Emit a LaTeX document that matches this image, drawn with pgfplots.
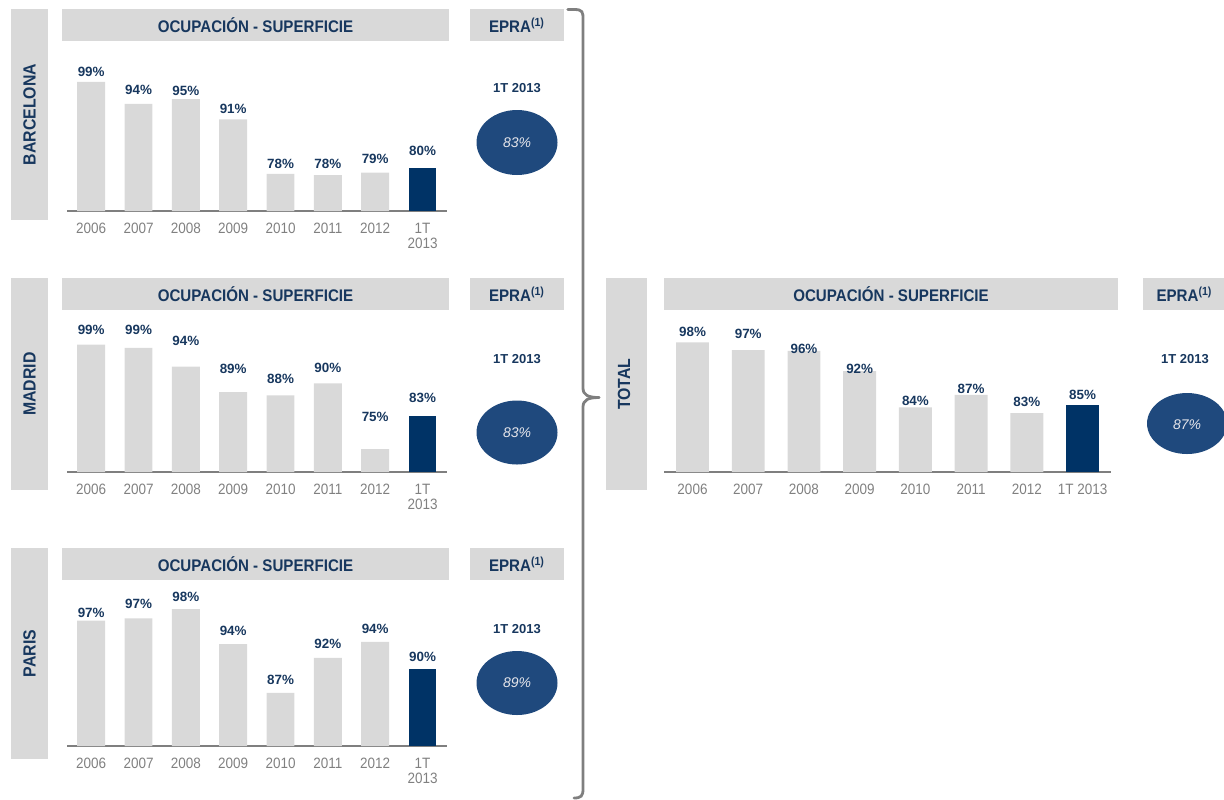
\documentclass[border=0pt]{standalone}
\usepackage{fontspec}
\setmainfont{Liberation Sans}[FakeStretch=0.9]
\newfontfamily\wide{Liberation Sans}
\usepackage{pgfplots}
\pgfplotsset{compat=1.18}
\usepackage{pgfplotstable}

\definecolor{boxgray}{HTML}{D9D9D9}
\definecolor{bargray}{HTML}{D9D9D9}
\definecolor{navy}{HTML}{003366}
\definecolor{ellblue}{HTML}{1F497D}
\definecolor{txtblue}{HTML}{17375E}
\definecolor{tickgray}{HTML}{808080}
\definecolor{linegray}{HTML}{7F7F7F}
\definecolor{elltext}{HTML}{E6E6EB}

% x = position, y = bar height, g = label gap (px), l = printed label
\pgfplotstableread{
x y g l
0 99.0 9.7 99
1 94.0 14 94
2 95.1 8.6 95
3 90.5 10 91
4 78.1 10.4 78
5 77.8 11.7 78
6 78.4 13.4 79
7 79.5 17 80
}\barcelona
\pgfplotstableread{
x y g l
0 99.2 14.7 99
1 98.5 17.7 99
2 94.1 26 94
3 88.2 23 89
4 87.4 16.6 88
5 90.2 15.6 90
6 74.95 32.3 75
7 82.6 18.3 83
}\madrid
\pgfplotstableread{
x y g l
0 96.5 8 97
1 96.8 14 97
2 98.0 12.3 98
3 93.4 13 94
4 87.0 13.4 87
5 91.6 13.7 92
6 93.7 12.7 94
7 90.1 12.3 90
}\paris
\pgfplotstableread{
x y g l
0 98.0 10.6 98
1 96.4 16 97
2 96.2 2 96
3 91.9 2 92
4 84.2 6.7 84
5 86.9 5.7 87
6 83.0 11.3 83
7 84.7 10 85
}\total

\pgfplotsset{
  occ/.style={
    scale only axis, anchor=south west, clip=false,
    axis x line=bottom, axis y line=none,
    axis line style={draw=linegray, line width=1pt, -},
    enlargelimits=false,
    xtick={0,...,7}, major tick length=0pt,
    xticklabel style={font=\fontsize{7.5}{7.6}\selectfont, text=tickgray,
      inner sep=0pt, yshift=-5.85pt, align=center, anchor=north},
    ybar, bar width=0.59,
    point meta=explicit symbolic,
    nodes near coords={\pgfplotspointmeta\%},
    nodes near coords style={font=\wide\bfseries\fontsize{6.7}{8}\selectfont,
      text=txtblue, anchor=center, inner sep=0pt, yshift=\gap*0.5pt},
  },
  left/.style={occ, width=189.7pt, xmin=-0.505, xmax=7.511,
    xticklabels={2006,2007,2008,2009,2010,2011,2012,{1T\\2013}}},
  greybars/.style={draw=none, fill=bargray, bar shift=0pt, restrict x to domain=0:6,
    visualization depends on={\thisrow{g} \as \gap}},
  navybars/.style={draw=none, fill=navy, bar shift=0pt, restrict x to domain=7:7,
    visualization depends on={\thisrow{g} \as \gap}},
}

\tikzset{
  hdr/.style={text=txtblue, font=\bfseries\fontsize{8.4}{10}\selectfont},
  side/.style={text=txtblue, rotate=90, font=\bfseries\fontsize{8.8}{11}\selectfont},
  qtr/.style={text=txtblue, font=\wide\bfseries\fontsize{6.5}{7.5}\selectfont},
  epra/.style={text=elltext, font=\wide\itshape\fontsize{7}{8}\selectfont},
}

\begin{document}
\begin{tikzpicture}
\useasboundingbox (0,0) rectangle (612pt,-399.5pt);

\begin{scope}[x=0.5pt,y=-0.5pt]
  % Barcelona frame
  \fill[boxgray] (11,9.3) rectangle (48,220);
  \node[side] at (29.5,114.6) {BARCELONA};
  \fill[boxgray] (62,9.3) rectangle (449,40.7);
  \node[hdr] at (255.5,25) {OCUPACIÓN - SUPERFICIE};
  \fill[boxgray] (470,9.3) rectangle (564,40.7);
  \node[hdr] at (517,25) {EPRA\textsuperscript{(1)}};
  \node[qtr] at (517,88.3) {1T 2013};
  \fill[ellblue] (517,142.5) ellipse [x radius=20.25pt, y radius=16.25pt];
  \node[epra] at (517,142.5) {83\%};

  % Madrid frame
  \fill[boxgray] (11,278.3) rectangle (48,490);
  \node[side] at (29.5,384.1) {MADRID};
  \fill[boxgray] (62,278.3) rectangle (449,310);
  \node[hdr] at (255.5,294.2) {OCUPACIÓN - SUPERFICIE};
  \fill[boxgray] (470,278.3) rectangle (564,310);
  \node[hdr] at (517,294.2) {EPRA\textsuperscript{(1)}};
  \node[qtr] at (517,359.3) {1T 2013};
  \fill[ellblue] (517,432.5) ellipse [x radius=20.25pt, y radius=16pt];
  \node[epra] at (517,432.5) {83\%};

  % Paris frame
  \fill[boxgray] (11,548.3) rectangle (48,759);
  \node[side] at (29.5,653.6) {PARIS};
  \fill[boxgray] (62,548.3) rectangle (449,580);
  \node[hdr] at (255.5,564.2) {OCUPACIÓN - SUPERFICIE};
  \fill[boxgray] (470,548.3) rectangle (564,580);
  \node[hdr] at (517,564.2) {EPRA\textsuperscript{(1)}};
  \node[qtr] at (517,629.3) {1T 2013};
  \fill[ellblue] (517,683) ellipse [x radius=20.25pt, y radius=16pt];
  \node[epra] at (517,683) {89\%};

  % Total frame
  \fill[boxgray] (606,278.3) rectangle (647.3,490);
  \node[side] at (624,384.1) {TOTAL};
  \fill[boxgray] (664,278.3) rectangle (1118,310);
  \node[hdr] at (891,294.2) {OCUPACIÓN - SUPERFICIE};
  \fill[boxgray] (1143.3,278.3) rectangle (1226,310);
  \node[hdr] at (1184.5,294.2) {EPRA\textsuperscript{(1)}};
  \node[qtr] at (1185,359.3) {1T 2013};
  \fill[ellblue] (1187,423.5) ellipse [x radius=20pt, y radius=15.25pt];
  \node[epra] at (1187,424.5) {87\%};

  % brace
  \draw[linegray, line width=1.4pt, line cap=round]
    (567.7,9.5) -- (574,9.5) .. controls (583,9.5) and (583,12) .. (583,20)
    -- (583,388) .. controls (583,395) and (588,397.5) .. (599,397.5);
  \draw[linegray, line width=1.4pt, line cap=round]
    (599,397.5) .. controls (588,397.5) and (583,400) .. (583,407)
    -- (583,789) .. controls (583,796) and (581,798) .. (574,798);
\end{scope}

\begin{axis}[left, at={(33.65pt,-105.5pt)}, height=70pt, ymin=69.65, ymax=101.5]
  \addplot+[greybars] table[x=x, y=y, meta=l] {\barcelona};
  \addplot+[navybars] table[x=x, y=y, meta=l] {\barcelona};
\end{axis}

\begin{axis}[left, at={(33.65pt,-236pt)}, height=70pt, ymin=69.6, ymax=102.16]
  \addplot+[greybars] table[x=x, y=y, meta=l] {\madrid};
  \addplot+[navybars] table[x=x, y=y, meta=l] {\madrid};
\end{axis}

\begin{axis}[left, at={(33.65pt,-373pt)}, height=75pt, ymin=80, ymax=99.74]
  \addplot+[greybars] table[x=x, y=y, meta=l] {\paris};
  \addplot+[navybars] table[x=x, y=y, meta=l] {\paris};
\end{axis}

\begin{axis}[occ, at={(332.15pt,-236pt)}, width=223.35pt, height=70pt,
  xmin=-0.506, xmax=7.51, ymin=70.5, ymax=100.22,
  xticklabels={2006,2007,2008,2009,2010,2011,2012,1T 2013}]
  \addplot+[greybars] table[x=x, y=y, meta=l] {\total};
  \addplot+[navybars] table[x=x, y=y, meta=l] {\total};
\end{axis}
\end{tikzpicture}
\end{document}
